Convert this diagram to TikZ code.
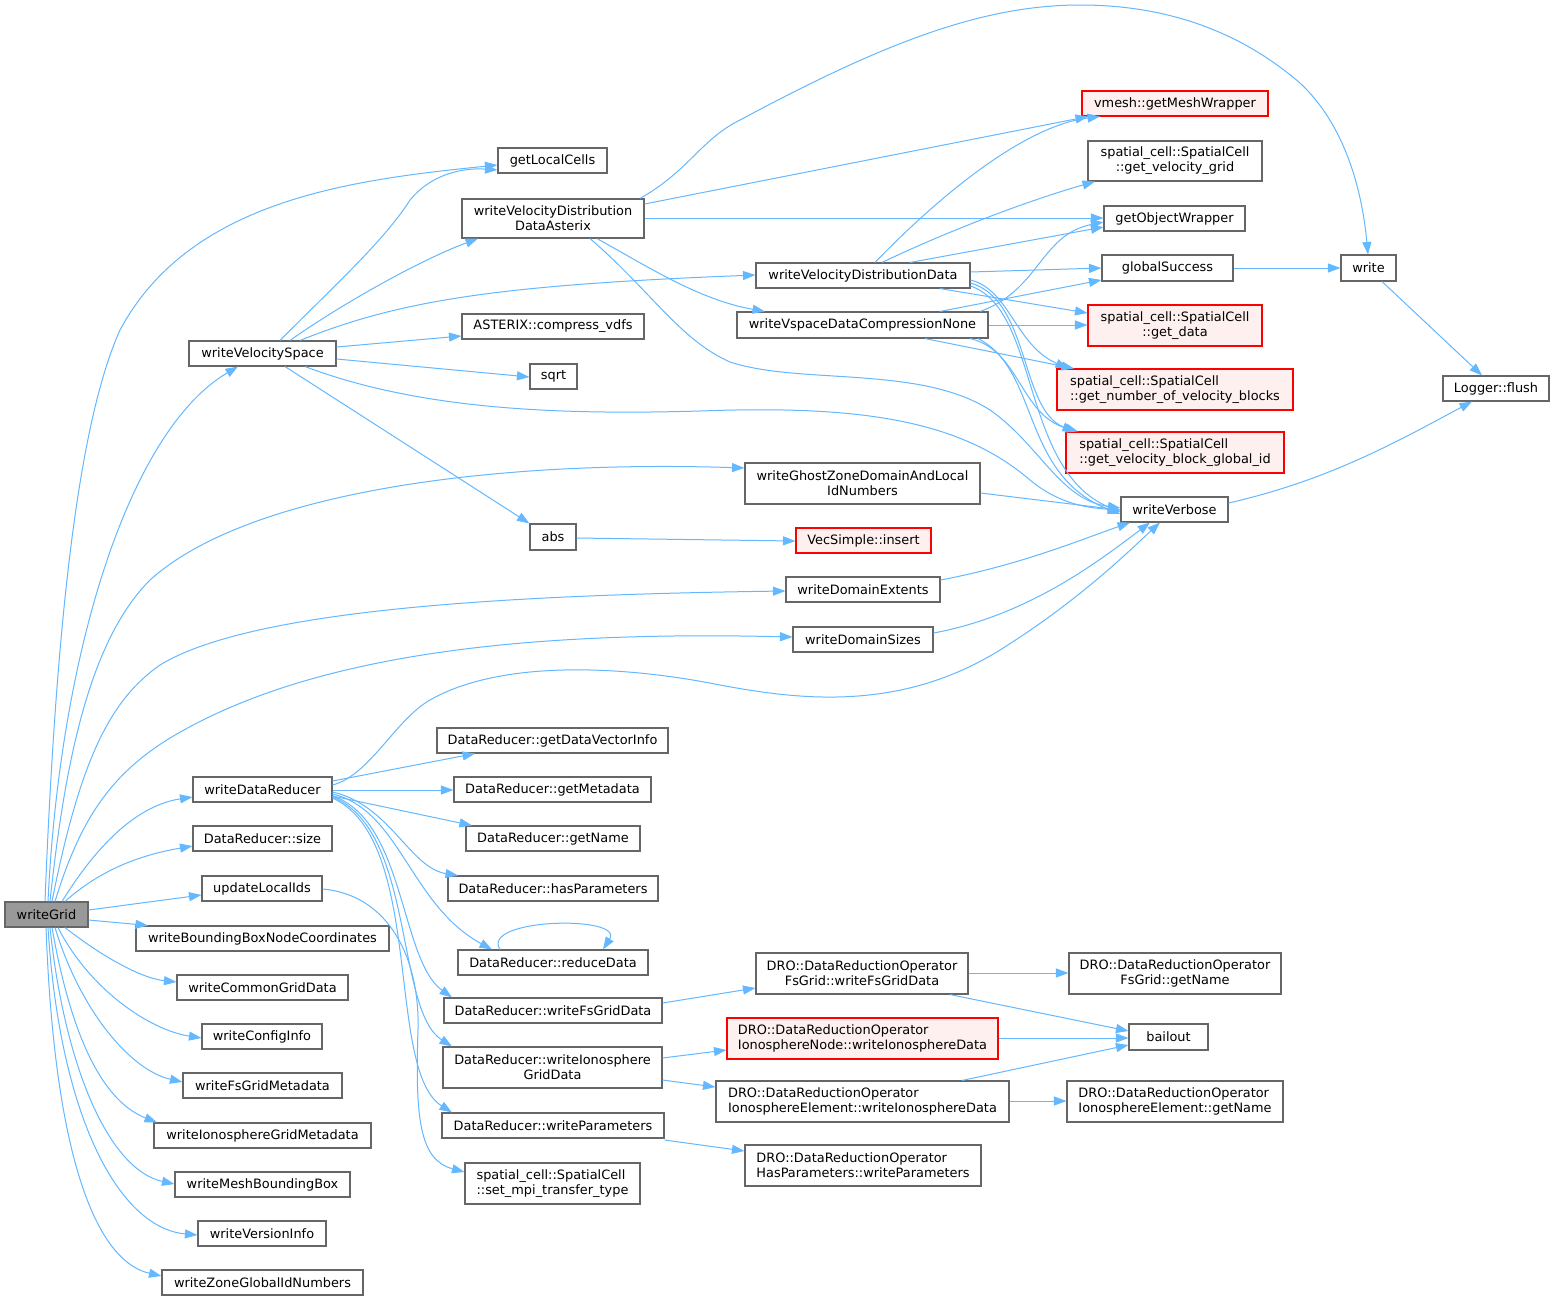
\documentclass[tikz,border=0pt]{standalone}
\usepackage{fontspec}
\setmainfont{DejaVu Sans}
\usetikzlibrary{arrows.meta}
\definecolor{edgec}{HTML}{63B8FF}
\definecolor{boxc}{HTML}{666666}
\definecolor{redfill}{HTML}{FFF0F0}
\definecolor{rootfill}{HTML}{999999}
\newcommand\mkbox[7]{\node[#1,minimum width={#4-#3},minimum height={#6-#5}] (#2) at ({(#3+#4)/2},{(#5+#6)/2}) {#7};}
\begin{document}
\begin{tikzpicture}[x=1pt,y=-1pt,
  fn/.style={draw=boxc,fill=white,line width=1.1pt,inner sep=0pt,font=\fontsize{12.9}{15}\selectfont,align=center},
  fnl/.style={fn,align=left},
  ext/.style={draw=red},
  extfill/.style={fill=redfill},
  root/.style={fill=rootfill},
  call/.style={draw=edgec,line width=1pt,-{Triangle[length=12.5pt,width=9pt]}},
]
\useasboundingbox[fill=white] (0,0) rectangle (1555,1302);

% ---- functions
\mkbox{fn,root}{wg}{5}{88}{902}{927}{writeGrid}
\mkbox{fn}{wvs}{189}{336}{341}{366}{writeVelocitySpace}
\mkbox{fn}{glc}{498}{607}{148}{173}{getLocalCells}
\mkbox{fn}{wvdda}{462}{644}{199}{238}{writeVelocityDistribution\\DataAsterix}
\mkbox{fn}{asx}{462}{644}{314}{339}{ASTERIX::compress\_vdfs}
\mkbox{fn}{sqrt}{530}{577}{364}{389}{sqrt}
\mkbox{fn}{abs}{530}{576}{524}{550}{abs}
\mkbox{fn}{wvdd}{756}{970}{263}{288}{writeVelocityDistributionData}
\mkbox{fn}{wvdcn}{737}{988}{312}{338}{writeVspaceDataCompressionNone}
\mkbox{fn}{wgz}{745}{980}{463}{504}{writeGhostZoneDomainAndLocal\\IdNumbers}
\mkbox{fn,ext,extfill}{vsi}{796}{931}{528}{553}{VecSimple::insert}
\mkbox{fn}{wde}{786}{940}{577}{602}{writeDomainExtents}
\mkbox{fn}{wds}{793}{933}{627}{652}{writeDomainSizes}
\mkbox{fn,ext,extfill}{vgm}{1082}{1268}{91}{116}{vmesh::getMeshWrapper}
\mkbox{fn}{gvg}{1088}{1262}{141}{181}{spatial\_cell::SpatialCell\\::get\_velocity\_grid}
\mkbox{fn}{gow}{1104}{1245}{206}{231}{getObjectWrapper}
\mkbox{fn}{gs}{1102}{1233}{255}{281}{globalSuccess}
\mkbox{fn,ext,extfill}{gd}{1088}{1262}{305}{346}{spatial\_cell::SpatialCell\\::get\_data}
\mkbox{fnl,ext,extfill}{gnvb}{1057}{1293}{369}{410}{spatial\_cell::SpatialCell\\::get\_number\_of\_velocity\_blocks}
\mkbox{fnl,ext,extfill}{gvbg}{1066}{1284}{432}{473}{spatial\_cell::SpatialCell\\::get\_velocity\_block\_global\_id}
\mkbox{fn}{wvb}{1121}{1228}{497}{522}{writeVerbose}
\mkbox{fn}{wr}{1341}{1396}{255}{281}{write}
\mkbox{fn}{lf}{1443}{1549}{376}{401}{Logger::flush}
\mkbox{fn}{wdr}{193}{332}{777}{802}{writeDataReducer}
\mkbox{fn}{gdvi}{437}{668}{728}{753}{DataReducer::getDataVectorInfo}
\mkbox{fn}{gmd}{454}{651}{777}{802}{DataReducer::getMetadata}
\mkbox{fn}{gnm}{466}{640}{826}{851}{DataReducer::getName}
\mkbox{fn}{dsz}{193}{332}{826}{851}{DataReducer::size}
\mkbox{fn}{hp}{448}{658}{876}{901}{DataReducer::hasParameters}
\mkbox{fn}{uli}{202}{322}{876}{901}{updateLocalIds}
\mkbox{fn}{rd}{458}{648}{950}{975}{DataReducer::reduceData}
\mkbox{fn}{wbb}{136}{389}{926}{951}{writeBoundingBoxNodeCoordinates}
\mkbox{fn}{wcg}{177}{348}{975}{1000}{writeCommonGridData}
\mkbox{fn}{wci}{202}{322}{1024}{1049}{writeConfigInfo}
\mkbox{fn}{wfm}{183}{342}{1073}{1098}{writeFsGridMetadata}
\mkbox{fn}{wim}{154}{371}{1123}{1148}{writeIonosphereGridMetadata}
\mkbox{fn}{wmb}{175}{350}{1172}{1197}{writeMeshBoundingBox}
\mkbox{fn}{wvi}{198}{326}{1221}{1246}{writeVersionInfo}
\mkbox{fn}{wzg}{162}{363}{1270}{1295}{writeZoneGlobalIdNumbers}
\mkbox{fn}{wfg}{444}{662}{998}{1023}{DataReducer::writeFsGridData}
\mkbox{fn}{wig}{443}{662}{1047}{1088}{DataReducer::writeIonosphere\\GridData}
\mkbox{fn}{wpr}{442}{664}{1113}{1138}{DataReducer::writeParameters}
\mkbox{fnl}{smt}{465}{640}{1163}{1204}{spatial\_cell::SpatialCell\\::set\_mpi\_transfer\_type}
\mkbox{fn}{dfw}{756}{968}{953}{994}{DRO::DataReductionOperator\\FsGrid::writeFsGridData}
\mkbox{fn}{dfn}{1069}{1281}{953}{994}{DRO::DataReductionOperator\\FsGrid::getName}
\mkbox{fn}{bo}{1129}{1208}{1024}{1050}{bailout}
\mkbox{fnl,ext,extfill}{dnw}{727}{998}{1018}{1059}{DRO::DataReductionOperator\\IonosphereNode::writeIonosphereData}
\mkbox{fnl}{dew}{716}{1009}{1081}{1122}{DRO::DataReductionOperator\\IonosphereElement::writeIonosphereData}
\mkbox{fnl}{den}{1067}{1283}{1081}{1122}{DRO::DataReductionOperator\\IonosphereElement::getName}
\mkbox{fnl}{dhp}{745}{981}{1145}{1186}{DRO::DataReductionOperator\\HasParameters::writeParameters}

% ---- writeGrid calls
\draw[call] (wg.north -| 45,0) .. controls (55,650) and (75,430) .. (120,330) .. controls (190,200) and (350,180) .. (glc.west |- 0,165);
\draw[call] (wg.north -| 48,0) .. controls (60,650) and (130,430) .. (wvs.south -| 238,0);
\draw[call] (wg.north -| 50,0) .. controls (65,760) and (90,640) .. (150,580) .. controls (250,490) and (500,460) .. (wgz.west |- 0,468);
\draw[call] (wg.north -| 52,0) .. controls (80,760) and (110,700) .. (160,665) .. controls (250,610) and (500,595) .. (wde.west |- 0,591);
\draw[call] (wg.north -| 55,0) .. controls (80,820) and (110,775) .. (170,738) .. controls (300,660) and (500,630) .. (wds.west |- 0,637);
\draw[call] (wg.north -| 62,0) .. controls (100,840) and (140,805) .. (wdr.west |- 0,797);
\draw[call] (wg.north -| 65,0) .. controls (100,870) and (140,855) .. (dsz.west |- 0,846);
\draw[call] (wg.east |- 0,910) -- (uli.west |- 0,895);
\draw[call] (wg.east |- 0,920) -- (wbb.north -| 148,0);
\draw[call] (wg.south -| 65,0) .. controls (100,955) and (140,978) .. (wcg.west |- 0,982);
\draw[call] (wg.south -| 58,0) .. controls (90,990) and (150,1030) .. (wci.west |- 0,1038);
\draw[call] (wg.south -| 55,0) .. controls (80,1010) and (130,1070) .. (wfm.west |- 0,1082);
\draw[call] (wg.south -| 52,0) .. controls (70,1030) and (100,1100) .. (wim.north -| 157,0);
\draw[call] (wg.south -| 50,0) .. controls (65,1070) and (110,1170) .. (wmb.west |- 0,1184);
\draw[call] (wg.south -| 48,0) .. controls (60,1120) and (120,1228) .. (wvi.west |- 0,1235);
\draw[call] (wg.south -| 46,0) .. controls (55,1170) and (100,1262) .. (wzg.west |- 0,1276);

% ---- writeVelocitySpace calls
\draw[call] (wvs.north -| 280,0) .. controls (330,290) and (385,240) .. (410,200) .. controls (435,170) and (470,168) .. (glc.west |- 0,170);
\draw[call] (wvs.north -| 290,0) .. controls (340,305) and (420,260) .. (wvdda.south -| 478,0);
\draw[call] (wvs.north -| 300,0) .. controls (400,300) and (500,285) .. (wvdd.west |- 0,275);
\draw[call] (wvs.east |- 0,347) -- (asx.west |- 0,336);
\draw[call] (wvs.east |- 0,359) -- (sqrt.west |- 0,377);
\draw[call] (wvs.south -| 285,0) -- (abs.north west);
\draw[call] (wvs.south -| 305,0) .. controls (420,410) and (560,415) .. (700,411) .. controls (860,405) and (960,420) .. (1030,480) .. controls (1060,505) and (1090,508) .. (wvb.west |- 0,510);

% ---- writeVelocityDistributionDataAsterix calls
\draw[call] (wvdda.north -| 640,0) .. controls (690,170) and (700,140) .. (740,120) .. controls (880,45) and (980,5) .. (1080,5) .. controls (1180,5) and (1250,40) .. (1300,83) .. controls (1345,125) and (1362,190) .. (wr.north -| 1368,0);
\draw[call] (wvdda.east |- 0,204) -- (vgm.south -| 1088,0);
\draw[call] (wvdda.east |- 0,218) -- (gow.west |- 0,218);
\draw[call] (wvdda.south -| 597,0) .. controls (650,268) and (700,300) .. (wvdcn.north -| 765,0);
\draw[call] (wvdda.south -| 590,0) .. controls (650,290) and (680,340) .. (730,362) .. controls (800,385) and (920,365) .. (990,410) .. controls (1040,445) and (1060,500) .. (wvb.west |- 0,508);

% ---- writeVelocityDistributionData calls
\draw[call] (wvdd.north -| 875,0) .. controls (950,185) and (1030,125) .. (vgm.south -| 1100,0);
\draw[call] (wvdd.north -| 882,0) .. controls (950,230) and (1030,200) .. (gvg.south -| 1095,0);
\draw[call] (wvdd.north -| 910,0) -- (gow.west |- 0,227);
\draw[call] (wvdd.east |- 0,272) -- (gs.west |- 0,268);
\draw[call] (wvdd.south -| 940,0) -- (gd.west |- 0,313);
\draw[call] (wvdd.east |- 0,280) .. controls (1010,290) and (1015,345) .. (gnvb.north -| 1068,0);
\draw[call] (wvdd.east |- 0,283) .. controls (1030,300) and (1020,410) .. (gvbg.north -| 1075,0);
\draw[call] (wvdd.east |- 0,286) .. controls (1040,310) and (1020,470) .. (wvb.west |- 0,512);

% ---- writeVspaceDataCompressionNone calls
\draw[call] (wvdcn.north -| 980,0) .. controls (1040,290) and (1040,235) .. (gow.west |- 0,222);
\draw[call] (wvdcn.north -| 940,0) -- (gs.west |- 0,280);
\draw[call] (wvdcn.east) -- (gd.west |- 0,325);
\draw[call] (wvdcn.south -| 925,0) -- (gnvb.north -| 1074,0);
\draw[call] (wvdcn.south -| 970,0) .. controls (1020,350) and (1020,415) .. (gvbg.north -| 1078,0);
\draw[call] (wvdcn.south -| 978,0) .. controls (1040,370) and (1020,475) .. (wvb.west |- 0,514);

% ---- others in the upper part
\draw[call] (wgz.east |- 0,493) -- (wvb.west |- 0,510);
\draw[call] (abs.east |- 0,538) -- (vsi.west |- 0,541);
\draw[call] (wde.east |- 0,580) .. controls (1020,565) and (1080,540) .. (wvb.south -| 1130,0);
\draw[call] (wds.east |- 0,633) .. controls (1030,615) and (1100,560) .. (wvb.south -| 1150,0);
\draw[call] (gs.east) -- (wr.west);
\draw[call] (wr.south -| 1382,0) -- (lf.north -| 1482,0);
\draw[call] (wvb.east |- 0,503) .. controls (1330,480) and (1400,440) .. (lf.south -| 1472,0);

% ---- writeDataReducer calls
\draw[call] (wdr.east |- 0,785) .. controls (370,775) and (395,720) .. (430,700) .. controls (500,660) and (620,665) .. (720,685) .. controls (800,700) and (900,712) .. (1000,650) .. controls (1080,600) and (1130,550) .. (wvb.south -| 1160,0);
\draw[call] (wdr.east |- 0,781) -- (gdvi.south -| 475,0);
\draw[call] (wdr.east |- 0,790) -- (gmd.west |- 0,790);
\draw[call] (wdr.east |- 0,796) -- (gnm.north -| 472,0);
\draw[call] (wdr.east |- 0,792) .. controls (390,805) and (410,868) .. (hp.north -| 458,0);
\draw[call] (wdr.east |- 0,794) .. controls (400,810) and (410,905) .. (rd.north -| 492,0);
\draw[call] (wdr.east |- 0,796) .. controls (405,820) and (400,960) .. (wfg.north -| 452,0);
\draw[call] (wdr.east |- 0,797) .. controls (415,830) and (395,1010) .. (wig.north -| 452,0);
\draw[call] (wdr.east |- 0,798) .. controls (425,840) and (385,1070) .. (wpr.north -| 452,0);
\draw[call] (rd.north -| 500,0) .. controls (480,918) and (625,915) .. (rd.north -| 603,0);
\draw[call] (uli.east |- 0,889) .. controls (390,895) and (420,960) .. (418,1030) .. controls (415,1120) and (420,1160) .. (smt.west |- 0,1172);

% ---- lower right
\draw[call] (wfg.east |- 0,1003) -- (dfw.west |- 0,988);
\draw[call] (wig.east |- 0,1058) -- (dnw.west |- 0,1050);
\draw[call] (wig.east |- 0,1080) -- (dew.west |- 0,1087);
\draw[call] (wpr.east |- 0,1140) -- (dhp.west |- 0,1151);
\draw[call] (dfw.east |- 0,973) -- (dfn.west |- 0,973);
\draw[call] (dfw.south -| 950,0) -- (bo.west |- 0,1031);
\draw[call] (dnw.east |- 0,1038) -- (bo.west |- 0,1038);
\draw[call] (dew.north -| 962,0) -- (bo.west |- 0,1045);
\draw[call] (dew.east |- 0,1101) -- (den.west |- 0,1101);
\end{tikzpicture}
\end{document}
